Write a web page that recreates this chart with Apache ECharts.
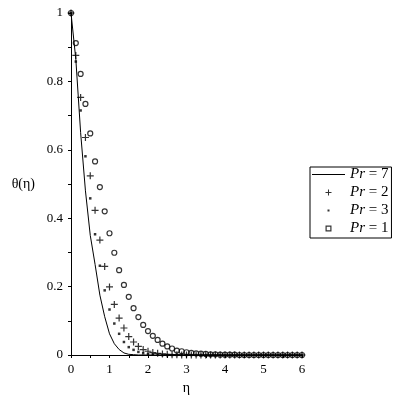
<!DOCTYPE html>
<html>
<head>
<meta charset="utf-8">
<script src="https://cdn.jsdelivr.net/npm/echarts@6/dist/echarts.min.js"></script>
<style>
	html, body { margin: 0; padding: 0; background: #fff; }
	#chart { width: 401px; height: 401px; }
</style>
</head>
<body>
<div id="chart"></div>
<script>
// eta grid of the ode solution (step 0.125)
var eta = [0, 0.125, 0.25, 0.375, 0.5, 0.625, 0.75, 0.875, 1, 1.125, 1.25, 1.375, 1.5, 1.625, 1.75, 1.875,
	2, 2.125, 2.25, 2.375, 2.5, 2.625, 2.75, 2.875, 3, 3.125, 3.25, 3.375, 3.5, 3.625, 3.75, 3.875,
	4, 4.125, 4.25, 4.375, 4.5, 4.625, 4.75, 4.875, 5, 5.125, 5.25, 5.375, 5.5, 5.625, 5.75, 5.875, 6];

// theta(eta)
var pr7 = [1, 0.865, 0.65, 0.48, 0.35, 0.265, 0.175, 0.112, 0.062, 0.033, 0.016, 0.006, 0.002, 0.001, 0, 0,
	0, 0, 0, 0, 0, 0, 0, 0, 0, 0, 0, 0, 0, 0, 0, 0,
	0, 0, 0, 0, 0, 0, 0, 0, 0, 0, 0, 0, 0, 0, 0, 0, 0];
var pr2 = [1, 0.876, 0.753, 0.636, 0.524, 0.423, 0.336, 0.259, 0.199, 0.148, 0.108, 0.079, 0.054, 0.038, 0.025, 0.016,
	0.011, 0.007, 0.005, 0.003, 0.002, 0.001, 0.001, 0, 0, 0, 0, 0, 0, 0, 0, 0,
	0, 0, 0, 0, 0, 0, 0, 0, 0, 0, 0, 0, 0, 0, 0, 0, 0];
var pr3 = [1, 0.858, 0.715, 0.581, 0.458, 0.353, 0.261, 0.189, 0.133, 0.092, 0.062, 0.038, 0.023, 0.015, 0.009, 0.005,
	0.003, 0.002, 0.001, 0, 0, 0, 0, 0, 0, 0, 0, 0, 0, 0, 0, 0,
	0, 0, 0, 0, 0, 0, 0, 0, 0, 0, 0, 0, 0, 0, 0, 0, 0];
var pr1 = [1, 0.912, 0.822, 0.734, 0.648, 0.566, 0.491, 0.42, 0.356, 0.299, 0.248, 0.205, 0.17, 0.137, 0.111, 0.088,
	0.07, 0.056, 0.044, 0.033, 0.025, 0.019, 0.013, 0.011, 0.008, 0.006, 0.005, 0.004, 0.003, 0.002, 0.002, 0.001,
	0.001, 0.001, 0.001, 0, 0, 0, 0, 0, 0, 0, 0, 0, 0, 0, 0, 0, 0];

var xTicks = [0, 1, 2, 3, 4, 5, 6];
var yTicks = [0, 0.2, 0.4, 0.6, 0.8, 1];

var plusIcon = 'path://M2.9,0H4.1V2.9H7V4.1H4.1V7H2.9V4.1H0V2.9H2.9Z';
var dotIcon = 'path://M0,0M6,6M2,2H4V4H2Z';
var lineIcon = 'path://M0,0H33V1H0Z';
var boxIcon = 'path://M0,0H5V5H0ZM1,1V4H4V1Z';

function pairs(ys) {
	return eta.map(function (x, i) { return [x, ys[i]]; });
}

window.onload = function () {
	var myChart = echarts.init(document.getElementById('chart'));
	var serif = 'Liberation Serif';

	var option = {
		animation: false,
		backgroundColor: '#fff',
		grid: { left: 71, right: 99, top: 13, bottom: 46 },
		legend: {
			orient: 'vertical',
			left: 310,
			top: 167,
			padding: [0, 3, 2, 2],
			itemGap: 3,
			itemWidth: 33,
			itemHeight: 6,
			borderColor: '#000',
			borderWidth: 1,
			borderRadius: 0,
			itemStyle: { color: '#000', borderWidth: 0 },
			textStyle: {
				color: '#000',
				fontFamily: serif,
				fontSize: 15,
				lineHeight: 14,
				rich: { i: { fontStyle: 'italic', fontFamily: serif, fontSize: 15, color: '#000' } }
			},
			formatter: function (n) { return '{i|Pr}' + n.slice(2); },
			data: [
				{ name: 'Pr = 7', icon: lineIcon, itemStyle: { color: '#000', borderWidth: 0 } },
				{ name: 'Pr = 2', icon: plusIcon, itemStyle: { color: '#000', borderWidth: 0 } },
				{ name: 'Pr = 3', icon: dotIcon, itemStyle: { color: '#000', borderWidth: 0 } },
				{ name: 'Pr = 1', icon: boxIcon, itemStyle: { color: '#000', borderWidth: 0 } }
			]
		},
		xAxis: {
			type: 'value',
			min: 0,
			max: 6,
			interval: 1,
			name: 'η',
			nameLocation: 'middle',
			nameGap: 26,
			nameTextStyle: { color: '#000', fontFamily: serif, fontSize: 14 },
			axisLine: { onZero: false, lineStyle: { color: '#000', width: 1 } },
			axisTick: { show: true, length: 3, lineStyle: { color: '#000' } },
			minorTick: { show: true, splitNumber: 2, length: 3, lineStyle: { color: '#000' } },
			splitLine: { show: false },
			axisLabel: {
				margin: 8,
				color: '#000',
				fontFamily: serif,
				fontSize: 13,
				formatter: function (v) { return xTicks.indexOf(v) >= 0 ? String(v) : ''; }
			}
		},
		yAxis: {
			type: 'value',
			min: 0,
			max: 1,
			interval: 0.2,
			name: 'θ(η)',
			nameLocation: 'middle',
			nameRotate: 0,
			nameGap: 36,
			nameTextStyle: { color: '#000', fontFamily: serif, fontSize: 14 },
			axisLine: { show: true, onZero: false, lineStyle: { color: '#000', width: 1 } },
			axisTick: { show: true, length: 3, lineStyle: { color: '#000' } },
			minorTick: { show: true, splitNumber: 2, length: 3, lineStyle: { color: '#000' } },
			splitLine: { show: false },
			axisLabel: {
				margin: 8,
				color: '#000',
				fontFamily: serif,
				fontSize: 13,
				formatter: function (v) {
					var i = yTicks.indexOf(Math.round(v * 10) / 10);
					return i >= 0 ? String(yTicks[i]) : '';
				}
			}
		},
		series: [
			{
				name: 'Pr = 1',
				type: 'scatter',
				symbol: 'circle',
				symbolSize: 5,
				itemStyle: { color: 'transparent', borderColor: '#000', borderWidth: 1.2 },
				data: pairs(pr1)
			},
			{
				name: 'Pr = 2',
				type: 'scatter',
				symbol: plusIcon,
				symbolSize: 7,
				itemStyle: { color: '#000' },
				data: pairs(pr2)
			},
			{
				name: 'Pr = 3',
				type: 'scatter',
				symbol: 'rect',
				symbolSize: 2.5,
				itemStyle: { color: '#000' },
				data: pairs(pr3)
			},
			{
				name: 'Pr = 7',
				type: 'line',
				symbol: 'none',
				smooth: false,
				lineStyle: { color: '#000', width: 1 },
				itemStyle: { color: '#000' },
				data: pairs(pr7)
			}
		]
	};

	myChart.setOption(option);
};
</script>
</body>
</html>
